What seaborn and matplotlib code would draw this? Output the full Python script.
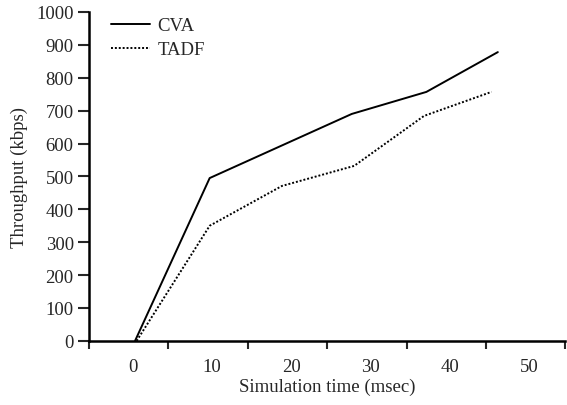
import matplotlib
matplotlib.use("Agg")
import matplotlib.pyplot as plt
import seaborn as sns
import pandas as pd

# values
cva_time = [0.3, 9.7, 27.6, 37.0, 46.0]
cva_tput = [0, 495, 690, 757, 878]
tadf_time = [0.5, 9.7, 18.8, 27.9, 36.7, 45.2]
tadf_tput = [0, 350, 471, 532, 684, 757]

x_labels = [0, 10, 20, 30, 40, 50]
y_ticks = list(range(0, 1001, 100))

df = pd.concat([
    pd.DataFrame({"time": cva_time, "tput": cva_tput, "scheme": "CVA"}),
    pd.DataFrame({"time": tadf_time, "tput": tadf_tput, "scheme": "TADF"}),
])

sns.set_style("white")
plt.rcParams["font.family"] = ["Liberation Serif", "DejaVu Serif"]
plt.rcParams["font.size"] = 13

fig = plt.figure(figsize=(5.67, 4.06), dpi=100)
ax = fig.add_axes((0.157, 0.158, 0.84, 0.81))

sns.lineplot(data=df, x="time", y="tput", style="scheme", color="black",
             dashes={"CVA": "", "TADF": (1, 1)}, linewidth=1.4, ax=ax)

ax.set_xlim(-5.5, 54.5)
ax.set_ylim(0, 1000)
ax.set_yticks(y_ticks)
# tick marks sit between the labelled values
ax.set_xticks([-5.5 + 10 * i for i in range(7)])
ax.set_xticklabels([])
ax.set_xticks(x_labels, minor=True)
ax.set_xticklabels([str(v) for v in x_labels], minor=True)
ax.tick_params(axis="x", which="minor", length=0, pad=12, labelsize=13.5)
ax.tick_params(axis="x", which="major", direction="out", length=6, width=1.5, bottom=True)
ax.tick_params(axis="y", direction="out", length=8, width=1.5, left=True, labelsize=13.5, pad=3)

for side in ["top", "right"]:
    ax.spines[side].set_visible(False)
for side in ["left", "bottom"]:
    ax.spines[side].set_linewidth(1.8)
    ax.spines[side].set_color("black")

ax.set_xlabel("Simulation time (msec)", fontsize=13.5, labelpad=2)
ax.set_ylabel("Throughput (kbps)", fontsize=13.5, labelpad=6)

ax.legend(loc="upper left", bbox_to_anchor=(0.01, 1.035), frameon=False,
          handlelength=2.1, handletextpad=0.4, labelspacing=0.35, fontsize=13.5)

fig.savefig("out.png", dpi=100)
